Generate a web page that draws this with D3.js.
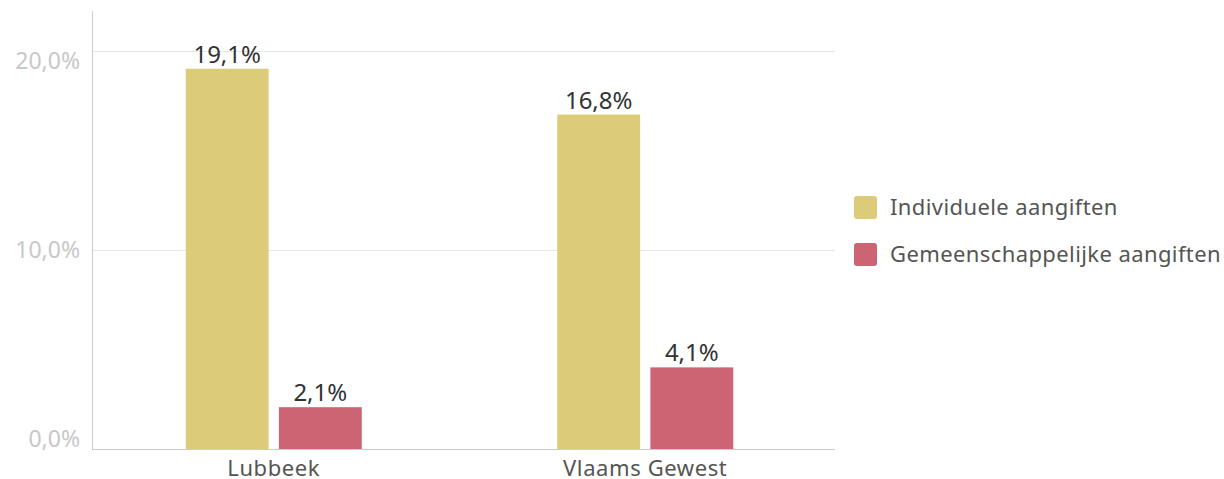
<!DOCTYPE html>
<html>
<head>
<meta charset="utf-8">
<script src="https://cdn.jsdelivr.net/npm/d3@7"></script>
<style>
  body { margin: 0; background: #fff; }
  text { font-family: "Noto Sans", "Open Sans", sans-serif; }
</style>
</head>
<body>
<svg id="chart" width="1224" height="479"></svg>
<script>
// data
var categories = ["Lubbeek", "Vlaams Gewest"]
var seriesNames = ["Individuele aangiften", "Gemeenschappelijke aangiften"]
var individueel = [19.1, 16.8]
var gemeenschappelijk = [2.1, 4.1]
var yTicks = [0, 10, 20]
var colors = ["#dccb78", "#cc6473"]

var svg = d3.select("#chart")
var mLeft = 92, mRight = 835, mTop = 11, mBottom = 449

var x0 = d3.scaleBand().domain(categories).range([mLeft, mRight])
var x1 = d3.scaleBand().domain([0, 1]).range([0, 176]).paddingInner(0.11)
var y = d3.scaleLinear().domain([0, 22]).range([mBottom, mTop])

var fmt = function (v) { return d3.format(".1f")(v).replace(".", ",") + "%" }

// gridlines
svg.append("g").selectAll("line").data(yTicks.filter(d => d > 0)).enter().append("line")
    .attr("x1", mLeft).attr("x2", mRight)
    .attr("y1", d => Math.round(y(d)) + 0.5).attr("y2", d => Math.round(y(d)) + 0.5)
    .attr("stroke", "#e6e6e6")

// y axis line + labels (labels pulled slightly toward the middle, like the original)
svg.append("line").attr("x1", mLeft + 0.5).attr("x2", mLeft + 0.5).attr("y1", mTop).attr("y2", mBottom)
    .attr("stroke", "#cccccc")
svg.append("g").selectAll("text").data(yTicks).enter().append("text")
    .attr("x", 80).attr("y", d => y(10) + (y(d) - y(10)) * 0.95)
    .attr("dy", "0.35em")
    .attr("text-anchor", "end")
    .attr("font-size", 23).attr("fill", "#c8c8c8")
    .text(d => fmt(d))

// bars
var rows = categories.map((c, i) => ({ cat: c, vals: [individueel[i], gemeenschappelijk[i]] }))
var groups = svg.append("g").selectAll("g").data(rows).enter().append("g")
    .attr("transform", d => "translate(" + (x0(d.cat) + x0.bandwidth() / 2 - 92) + ",0)")

groups.selectAll("rect").data(d => d.vals).enter().append("rect")
    .attr("x", (d, i) => x1(i))
    .attr("width", x1.bandwidth())
    .attr("y", d => y(d))
    .attr("height", d => y(0) - y(d))
    .attr("fill", (d, i) => colors[i])

groups.selectAll("text.val").data(d => d.vals).enter().append("text")
    .attr("class", "val")
    .attr("x", (d, i) => x1(i) + x1.bandwidth() / 2)
    .attr("y", d => y(d) - 6)
    .attr("text-anchor", "middle")
    .attr("font-size", 24).attr("fill", "#333")
    .text(d => fmt(d))

// x axis
svg.append("line").attr("x1", mLeft).attr("x2", mRight).attr("y1", mBottom + 0.5).attr("y2", mBottom + 0.5)
    .attr("stroke", "#cccccc")
svg.append("g").selectAll("text").data(categories).enter().append("text")
    .attr("x", d => x0(d) + x0.bandwidth() / 2 - 4)
    .attr("y", 476)
    .attr("text-anchor", "middle")
    .attr("font-size", 22).attr("letter-spacing", 0.6).attr("fill", "#555")
    .text(d => d)

// legend
var legend = svg.append("g").selectAll("g").data(seriesNames).enter().append("g")
    .attr("transform", (d, i) => "translate(854," + (196 + i * 47) + ")")
legend.append("rect").attr("width", 23).attr("height", 23).attr("rx", 3)
    .attr("fill", (d, i) => colors[i])
legend.append("text").attr("x", 36).attr("y", 19)
    .attr("font-size", 22).attr("letter-spacing", 0.4).attr("fill", "#555")
    .text(d => d)
</script>
</body>
</html>
